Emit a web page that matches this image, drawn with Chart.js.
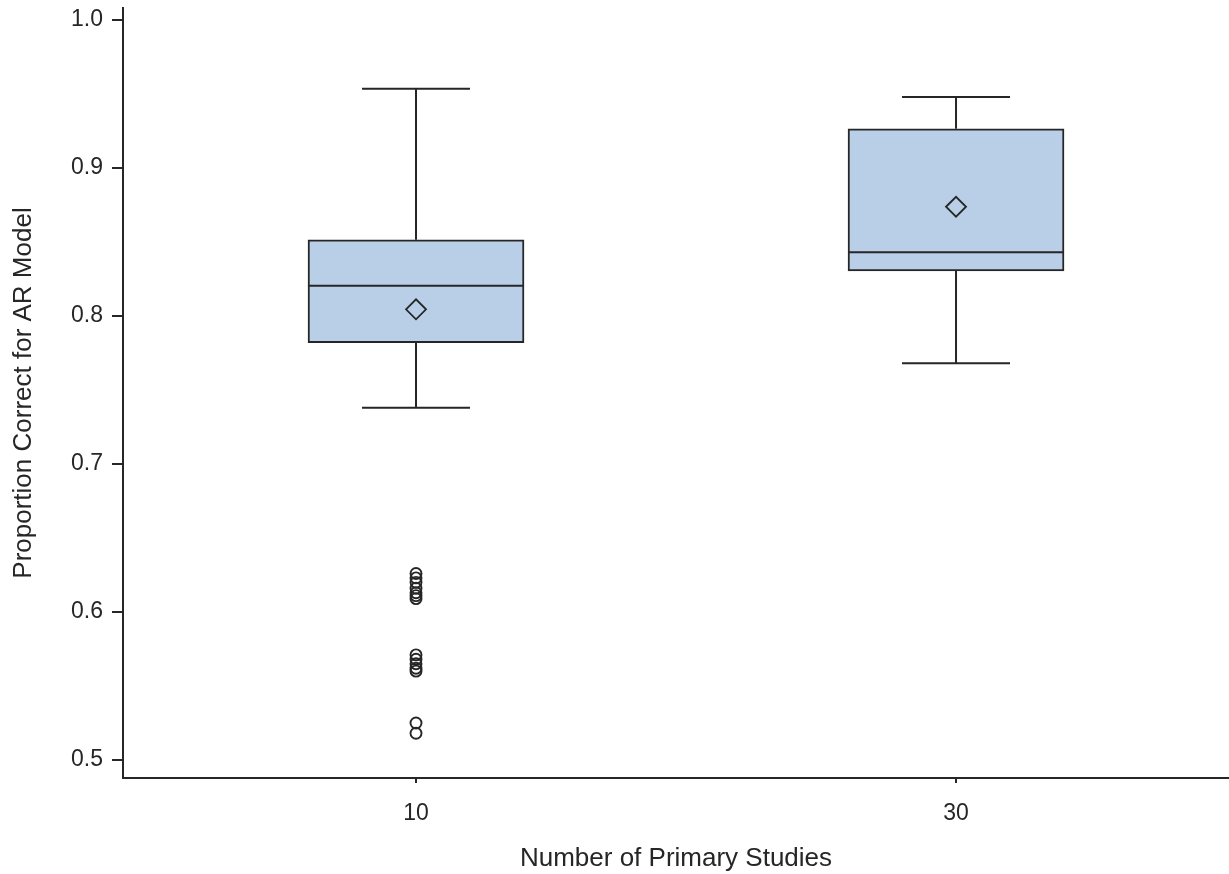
<!DOCTYPE html>
<html>
<head>
<meta charset="utf-8">
<script src="https://cdn.jsdelivr.net/npm/chart.js@4/dist/chart.umd.min.js"></script>
<style>
  html, body { margin: 0; padding: 0; background: #fff; }
  #wrap { width: 1229px; height: 874px; position: relative; }
</style>
</head>
<body>
<div id="wrap"><canvas id="c" width="1229" height="874"></canvas></div>
<script>
// ---- data ----
const categories = [10, 30];
const whiskerLow  = [0.738, 0.768];
const q1          = [0.782, 0.8305];
const median      = [0.8205, 0.843];
const q3          = [0.8515, 0.9265];
const whiskerHigh = [0.9535, 0.948];
const means       = [0.8045, 0.8738];
const outlierGroup = [10, 10, 10, 10, 10, 10, 10, 10, 10, 10, 10, 10, 10, 10];
const outlierValues = [0.626, 0.623, 0.620, 0.616, 0.613, 0.611, 0.609,
                       0.571, 0.568, 0.565, 0.562, 0.560,
                       0.525, 0.518];
const yTickValues = [0.5, 0.6, 0.7, 0.8, 0.9, 1.0];
const yTickLabels = ['0.5', '0.6', '0.7', '0.8', '0.9', '1.0'];
const xTickLabels = ['10', '30'];
const xTitle = 'Number of Primary Studies';
const yTitle = 'Proportion Correct for AR Model';

const INK = '#262626';
const FILL = '#b9cfe7';
const FONT = "'Liberation Sans', Arial, sans-serif";

function noPad(s) { s.paddingLeft = 0; s.paddingRight = 0; s.paddingTop = 0; s.paddingBottom = 0; }

const boxExtras = {
  id: 'boxExtras',
  beforeDatasetsDraw(chart) {
    const { ctx } = chart;
    const xs = chart.scales.x, ys = chart.scales.y;
    const boxMeta = chart.getDatasetMeta(0);
    ctx.save();
    ctx.strokeStyle = INK;
    ctx.lineWidth = 2;
    categories.forEach((c, i) => {
      const x = xs.getPixelForValue(c);
      const bw = boxMeta.data[i].width;
      const capHalf = bw / 4;
      const yLo = ys.getPixelForValue(whiskerLow[i]);
      const yQ1 = ys.getPixelForValue(q1[i]);
      const yQ3 = ys.getPixelForValue(q3[i]);
      const yHi = ys.getPixelForValue(whiskerHigh[i]);
      ctx.beginPath();
      ctx.moveTo(x, yQ1); ctx.lineTo(x, yLo);
      ctx.moveTo(x - capHalf, yLo); ctx.lineTo(x + capHalf, yLo);
      ctx.moveTo(x, yQ3); ctx.lineTo(x, yHi);
      ctx.moveTo(x - capHalf, yHi); ctx.lineTo(x + capHalf, yHi);
      ctx.stroke();
    });
    ctx.restore();
  },
  afterDatasetDraw(chart, args) {
    if (args.index !== 0) return;
    const { ctx } = chart;
    const xs = chart.scales.x, ys = chart.scales.y;
    const boxMeta = chart.getDatasetMeta(0);
    ctx.save();
    ctx.strokeStyle = INK;
    ctx.lineWidth = 2;
    categories.forEach((c, i) => {
      const x = xs.getPixelForValue(c);
      const half = boxMeta.data[i].width / 2;
      const ym = ys.getPixelForValue(median[i]);
      ctx.beginPath();
      ctx.moveTo(x - half, ym); ctx.lineTo(x + half, ym);
      ctx.stroke();
    });
    ctx.restore();
  }
};

new Chart(document.getElementById('c'), {
  type: 'bar',
  data: {
    datasets: [
      {
        type: 'bar',
        label: 'box',
        data: categories.map((c, i) => ({ x: c, y: [q1[i], q3[i]] })),
        backgroundColor: FILL,
        borderColor: INK,
        borderWidth: 2,
        borderSkipped: false,
        barThickness: 216,
        order: 2
      },
      {
        type: 'scatter',
        label: 'mean',
        data: categories.map((c, i) => ({ x: c, y: means[i] })),
        pointStyle: 'rectRot',
        pointRadius: 10,
        pointBorderWidth: 1.8,
        pointBorderColor: INK,
        pointBackgroundColor: 'rgba(0,0,0,0)',
        order: 0
      },
      {
        type: 'scatter',
        label: 'outliers',
        data: outlierValues.map((v, i) => ({ x: outlierGroup[i], y: v })),
        pointStyle: 'circle',
        pointRadius: 5.5,
        pointBorderWidth: 1.9,
        pointBorderColor: INK,
        pointBackgroundColor: 'rgba(0,0,0,0)',
        order: 1
      }
    ]
  },
  options: {
    responsive: false,
    animation: false,
    events: [],
    layout: { autoPadding: false, padding: { top: 8, right: 0, left: 0, bottom: 0 } },
    plugins: { legend: { display: false }, tooltip: { enabled: false } },
    scales: {
      x: {
        type: 'linear',
        min: -0.852,
        max: 40.11,
        offset: false,
        afterFit(s) { s.height = 96; noPad(s); },
        afterBuildTicks(s) { s.ticks = categories.map(v => ({ value: v })); },
        ticks: {
          callback: (v) => xTickLabels[categories.indexOf(v)],
          color: INK,
          font: { family: FONT, size: 23 },
          padding: 17,
          maxRotation: 0,
          autoSkip: false
        },
        grid: { offset: false, drawOnChartArea: false, drawTicks: true, tickLength: 5, color: INK, lineWidth: 2 },
        border: { display: true, color: INK, width: 2 },
        title: {
          display: true,
          text: xTitle,
          color: INK,
          font: { family: FONT, size: 26 },
          padding: { top: 0, bottom: 0 }
        }
      },
      y: {
        type: 'linear',
        min: 0.4878,
        max: 1.0081,
        afterFit(s) { s.width = 123; noPad(s); },
        afterBuildTicks(s) { s.ticks = yTickValues.map(v => ({ value: v })); },
        ticks: {
          callback: (v) => yTickLabels[yTickValues.indexOf(v)],
          color: INK,
          font: { family: FONT, size: 23 },
          padding: 9
        },
        grid: { drawOnChartArea: false, drawTicks: true, tickLength: 11, color: INK, lineWidth: 2 },
        border: { display: true, color: INK, width: 2 },
        title: {
          display: true,
          text: yTitle,
          color: INK,
          font: { family: FONT, size: 26 },
          padding: { top: 8, bottom: 0 }
        }
      }
    }
  },
  plugins: [boxExtras]
});
</script>
</body>
</html>
